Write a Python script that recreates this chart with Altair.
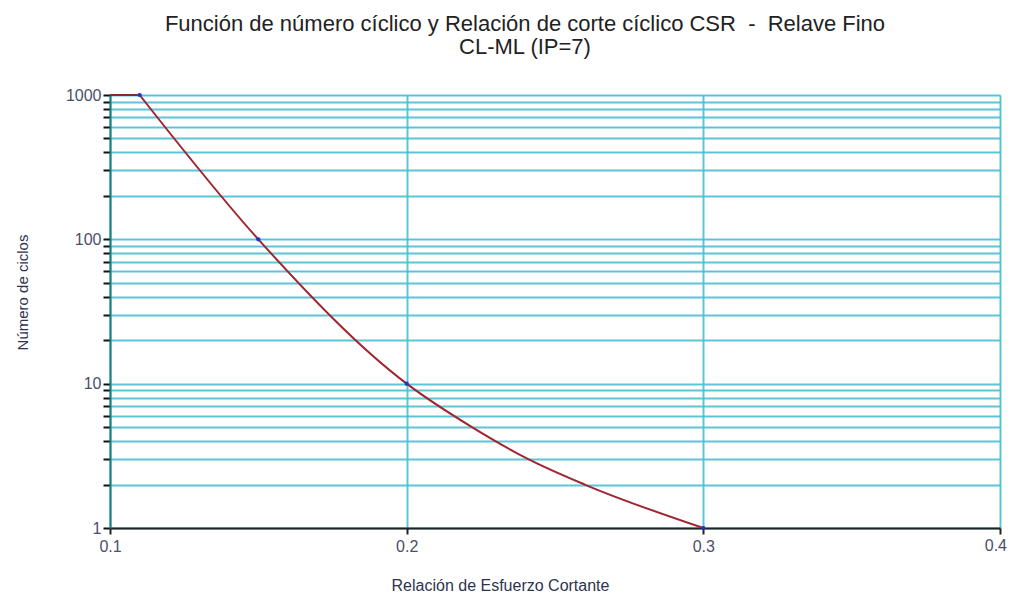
import altair as alt
import pandas as pd

# key points of the curve (CSR, number of cycles)
csr_main = [0.11, 0.15, 0.20, 0.222, 0.241, 0.26, 0.30]
n_main = [1000, 100, 10, 5, 3, 2, 1]
csr_flat = [0.10, 0.11]
n_flat = [1000, 1000]
csr_pts = [0.11, 0.15, 0.20, 0.30]
n_pts = [1000, 100, 10, 1]

y_ticks = [1, 2, 3, 4, 5, 6, 7, 8, 9, 10, 20, 30, 40, 50, 60, 70, 80, 90,
           100, 200, 300, 400, 500, 600, 700, 800, 900, 1000]
x_ticks = [0.1, 0.2, 0.3, 0.4]
x_last_label = ["0.4"]

df_main = pd.DataFrame({"csr": csr_main, "n": n_main})
df_flat = pd.DataFrame({"csr": csr_flat, "n": n_flat})
df_pts = pd.DataFrame({"csr": csr_pts, "n": n_pts})
df_last = pd.DataFrame({"csr": [x_ticks[-1]], "n": [y_ticks[0]], "lab": x_last_label})

grid_col = "#4dbfd3"
font = "Liberation Sans"
lab_col = "#4a4f6a"

x_enc = alt.X("csr:Q", scale=alt.Scale(domain=[0.1, 0.4], nice=False, zero=False),
              axis=alt.Axis(values=x_ticks, format=".1f", title="Relación de Esfuerzo Cortante",
                            labelExpr="datum.value >= 0.39 ? '' : datum.label",
                            grid=True, gridColor=grid_col, gridWidth=2, gridOpacity=0.9,
                            domainColor="#222222", domainWidth=2, tickColor="#222222",
                            tickWidth=2, tickSize=6, labelFontSize=16, labelColor=lab_col,
                            labelFont=font, labelPadding=4, labelFlush=False,
                            titleFont=font, titleFontSize=16,
                            titleFontWeight="normal", titleColor="#2e3450",
                            titleX=390, titleY=57, titleBaseline="middle"))
y_enc = alt.Y("n:Q", scale=alt.Scale(type="log", domain=[1, 1000], nice=False),
              axis=alt.Axis(values=y_ticks, format="d",
                            labelExpr="indexof(['1','10','100','1000'], datum.label) >= 0 ? datum.label : ''",
                            title="Número de ciclos", grid=True, gridColor=grid_col, gridWidth=2,
                            gridOpacity=0.9, domainColor="#1f7f80", domainWidth=2,
                            tickColor="#111111", tickWidth=2, tickSize=7, labelFontSize=16,
                            labelColor=lab_col, labelFont=font, labelPadding=2,
                            titleFont=font, titleFontSize=15, titleFontWeight="normal",
                            titleColor="#2e3450", titleX=-88, titleY=197,
                            titleBaseline="middle", titleAlign="center", titleAngle=270))

flat = alt.Chart(df_flat).mark_line(color="#8b2a2a", strokeWidth=2).encode(x=x_enc, y=y_enc)
curve = alt.Chart(df_main).mark_line(color="#a02530", strokeWidth=2, interpolate="monotone").encode(x=x_enc, y=y_enc)
pts = alt.Chart(df_pts).mark_circle(color="#2233cc", size=18, opacity=1).encode(x=x_enc, y=y_enc)
last_lab = alt.Chart(df_last).mark_text(
    align="right", baseline="top", dx=7, dy=10, font=font, fontSize=16, color=lab_col
).encode(x=alt.X("csr:Q"), y=alt.Y("n:Q"), text="lab:N")

chart = alt.layer(flat, curve, pts, last_lab).properties(
    width=890, height=433,
    autosize=alt.AutoSizeParams(type="none"),
    padding={"left": 102, "top": 87, "right": 7, "bottom": 66},
    title=alt.TitleParams(
        text=["Función de número cíclico y Relación de corte cíclico CSR \u00a0-\u00a0 Relave Fino", "CL-ML (IP=7)"],
        font=font, fontSize=22, fontWeight="normal", color="#222222", anchor="middle",
        dx=-30, offset=28, lineHeight=23),
).configure_view(stroke=None).configure(background="white")

chart.save("out.html", embed_options={"renderer": "svg", "actions": False})
